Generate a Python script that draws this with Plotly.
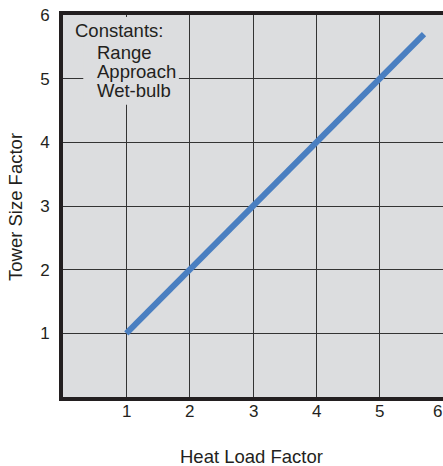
import plotly.graph_objects as go

heat_load = [1.0, 5.7]
tower_size = [1.0, 5.7]
tick_vals = [1, 2, 3, 4, 5, 6]
tick_text = ["1", "2", "3", "4", "5", "6"]
note_title = "Constants:"
note_items = ["Range", "Approach", "Wet-bulb"]
x_title = "Heat Load Factor"
y_title = "Tower Size Factor"

FONT = "Liberation Sans, Arial, sans-serif"
BG = "#dcdddf"
DARK = "#231f20"
TXT = "#231f20"

fig = go.Figure()
fig.add_trace(go.Scatter(x=heat_load, y=tower_size, mode="lines",
                         line=dict(color="#4a7fc1", width=6), showlegend=False))

# background patches behind the note (hide gridlines)
fig.add_shape(type="rect", x0=0.1, x1=1.6, y0=5.55, y1=5.97, xref="x", yref="y",
              fillcolor=BG, line=dict(width=0), layer="above")
fig.add_shape(type="rect", x0=0.32, x1=1.83, y0=4.59, y1=5.6, xref="x", yref="y",
              fillcolor=BG, line=dict(width=0), layer="above")

fig.add_annotation(x=0.15, y=5.75, xref="x", yref="y", text=note_title,
                   showarrow=False, xanchor="left", yanchor="middle",
                   font=dict(family=FONT, size=18.5, color=TXT))
for t, yv in zip(note_items, [5.41, 5.11, 4.81]):
    fig.add_annotation(x=0.5, y=yv, xref="x", yref="y", text=t,
                       showarrow=False, xanchor="left", yanchor="middle",
                       font=dict(family=FONT, size=18.5, color=TXT))

W, H = 443, 466
L, R, T, B = 63, 0, 15, 69
pw, ph = W - L - R, H - T - B

# axis titles (pixel positions converted to paper fractions)
fig.add_annotation(x=(251 - L) / pw, y=(H - 456 - B) / ph, xref="paper", yref="paper",
                   text=x_title, showarrow=False, xanchor="center", yanchor="middle",
                   font=dict(family=FONT, size=18.5, color=TXT))
fig.add_annotation(x=(15 - L) / pw, y=(H - 207 - B) / ph, xref="paper", yref="paper",
                   text=y_title, showarrow=False, xanchor="center", yanchor="middle",
                   textangle=-90, font=dict(family=FONT, size=18.5, color=TXT))

# x tick labels as annotations on the data scale (last one hugs the page edge)
tick_y = (H - 411 - B) / ph
for v, t in zip(tick_vals, tick_text):
    last = v == tick_vals[-1]
    fig.add_annotation(x=v, y=tick_y, xref="x", yref="paper", text=t,
                       showarrow=False, xanchor="right" if last else "center",
                       xshift=1 if last else 0, yanchor="middle",
                       font=dict(family=FONT, size=17, color=TXT))

fig.update_layout(
    width=W, height=H,
    margin=dict(l=L, r=R, t=T, b=B, autoexpand=False),
    paper_bgcolor="white", plot_bgcolor=BG,
    font=dict(family=FONT, size=17, color=TXT),
    xaxis=dict(range=[0, 6], tickvals=tick_vals, showticklabels=False,
               showgrid=True, gridcolor="#333333", gridwidth=1.3,
               showline=True, linecolor=DARK, linewidth=4, mirror=True,
               ticks="", zeroline=False, automargin=False),
    yaxis=dict(range=[0, 6], tickvals=tick_vals, ticktext=tick_text,
               showgrid=True, gridcolor="#333333", gridwidth=1.3,
               showline=True, linecolor=DARK, linewidth=4, mirror=False,
               ticks="outside", ticklen=6, tickcolor="rgba(0,0,0,0)",
               zeroline=False, automargin=False,
               tickfont=dict(family=FONT, size=17, color=TXT)),
)

fig.write_html("out.html", config={"displayModeBar": False},
               post_script="document.body.style.margin='0';document.body.style.padding='0';")
